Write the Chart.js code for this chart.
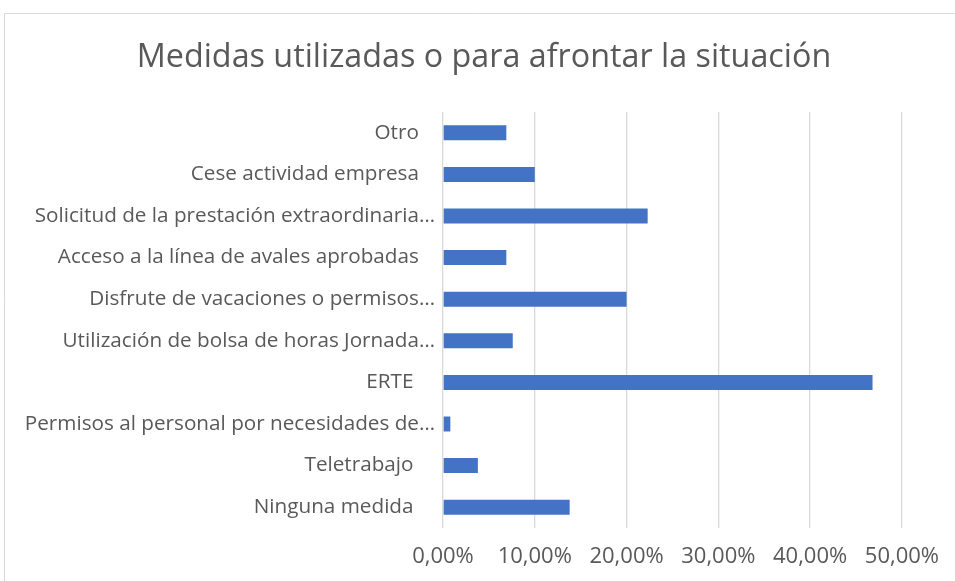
<!DOCTYPE html>
<html>
<head>
<meta charset="utf-8">
<script src="https://cdn.jsdelivr.net/npm/chart.js@4"></script>
<style>
  html, body { margin: 0; padding: 0; background: #fff; }
  #wrap { position: relative; width: 955px; height: 581px; }
</style>
</head>
<body>
<div id="wrap"><canvas id="c" width="955" height="581"></canvas></div>
<script>
const categories = [
  "Otro   ",
  "Cese actividad empresa   ",
  "Solicitud de la prestación extraordinaria…",
  "Acceso a la línea de avales aprobadas   ",
  "Disfrute de vacaciones o permisos…",
  "Utilización de bolsa de horas Jornada…",
  "ERTE    ",
  "Permisos al personal por necesidades de…",
  "Teletrabajo    ",
  "Ninguna medida    "
];
const values = [6.9, 10.0, 22.3, 6.9, 20.0, 7.6, 46.8, 0.8, 3.8, 13.8];
const xTicks = [0, 10, 20, 30, 40, 50];
const title = "Medidas utilizadas o para afrontar la situación";

const FONT = "'Open Sans'";
const decorPlugin = {
  id: 'decor',
  beforeDraw(chart) {
    const ctx = chart.ctx;
    ctx.save();
    ctx.fillStyle = '#ffffff';
    ctx.fillRect(0, 0, chart.width, chart.height);
    ctx.strokeStyle = '#d9d9d9';
    ctx.lineWidth = 1;
    ctx.beginPath();
    ctx.moveTo(4.5, chart.height);
    ctx.lineTo(4.5, 13.5);
    ctx.lineTo(chart.width, 13.5);
    ctx.stroke();
    ctx.restore();
  },
  afterDraw(chart) {
    const ctx = chart.ctx;
    ctx.save();
    ctx.fillStyle = '#595959';
    ctx.font = "32.3px " + FONT;
    ctx.textAlign = 'center';
    ctx.textBaseline = 'middle';
    ctx.fillText(title, 484, 58);
    ctx.restore();
  }
};

new Chart(document.getElementById('c'), {
  type: 'bar',
  data: {
    labels: categories,
    datasets: [{
      data: values,
      backgroundColor: '#4472C4',
      borderWidth: 0,
      categoryPercentage: 1,
      barPercentage: 0.36
    }]
  },
  options: {
    indexAxis: 'y',
    responsive: false,
    animation: false,
    layout: { padding: { left: 0, right: 52, top: 112, bottom: 14 } },
    plugins: {
      legend: { display: false },
      tooltip: { enabled: false },
      title: { display: false }
    },
    scales: {
      x: {
        min: 0, max: 50,
        afterBuildTicks(scale) { scale.ticks = xTicks.map(v => ({ value: v })); },
        afterFit(scale) { scale.height = 39; },
        ticks: {
          color: '#595959',
          font: { family: FONT, size: 22 },
          padding: 16,
          maxRotation: 0,
          callback: v => v.toFixed(2).replace('.', ',') + '%'
        },
        grid: { color: '#d9d9d9', lineWidth: 1.3, drawTicks: false },
        border: { display: false }
      },
      y: {
        afterFit(scale) { scale.width = 443; },
        ticks: {
          color: '#595959',
          font: { family: FONT, size: 20.7 },
          padding: 8,
          autoSkip: false
        },
        grid: { display: false, drawTicks: false },
        border: { display: false }
      }
    }
  },
  plugins: [decorPlugin]
});
</script>
</body>
</html>
